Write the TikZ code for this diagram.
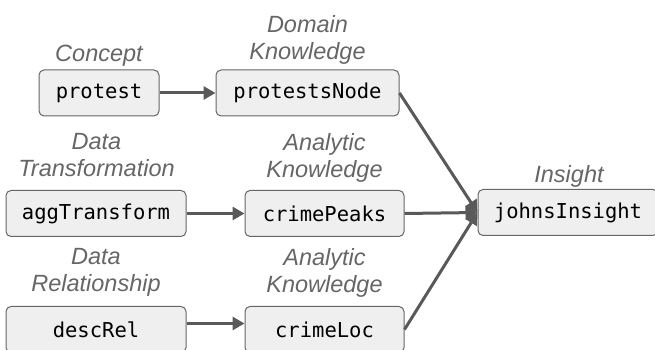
\documentclass[tikz,border=0pt]{standalone}
\usepackage{fontspec}
\setmainfont{Liberation Sans}
\newfontfamily\codefont{DejaVu Sans Mono}
\usepackage{xcolor}
\usepackage{tikz}
\usetikzlibrary{shapes,arrows,arrows.meta,positioning}

\definecolor{boxfill}{HTML}{EFEFEF}
\definecolor{boxline}{HTML}{666666}
\definecolor{flowgray}{HTML}{595959}
\definecolor{labelgray}{HTML}{666666}

\tikzset{
    kbox/.style={
        draw=boxline,
        fill=boxfill,
        line width=1pt,
        rounded corners=5pt,
        minimum height=46pt,
        inner sep=0pt,
        font=\codefont\fontsize{20.5}{24}\selectfont
    },
    klabel/.style={
        anchor=south,
        inner sep=0pt,
        text depth=0pt,
        align=center,
        text=labelgray,
        font=\itshape\fontsize{23.5}{27}\selectfont
    },
    flow/.style={
        draw=flowgray,
        line width=3pt,
        -{Triangle[length=12pt,width=13pt]}
    }
}

\begin{document}
\begin{tikzpicture}[x=10pt,y=10pt]
                \useasboundingbox (0,0) rectangle (65.5,35);

                % boxes
                \node[kbox, minimum width=120pt] (protest) at (9.9,25.7) {protest};
                \node[kbox, minimum width=183pt] (protestsNode) at (30.75,25.7) {protestsNode};
                \node[kbox, minimum width=180pt] (aggTransform) at (9.6,13.65) {aggTransform};
                \node[kbox, minimum width=159pt] (crimePeaks) at (32.45,13.65) {crimePeaks};
                \node[kbox, minimum width=180pt] (descRel) at (9.6,2.05) {descRel};
                \node[kbox, minimum width=159pt] (crimeLoc) at (32.45,2.05) {crimeLoc};
                \node[kbox, minimum width=180pt] (johnsInsight) at (56.8,13.75) {johnsInsight};

                % labels
                \node[klabel] (conceptLbl) at (9.9,28.85) {Concept};
                \node[klabel] (domainLbl) at (30.75,29.0) {Domain\\Knowledge};
                \node[klabel] (transformLbl) at (9.65,17.3) {Data\\Transformation};
                \node[klabel] (analyticLblA) at (32.45,17.25) {Analytic\\Knowledge};
                \node[klabel] (relationLbl) at (9.6,5.8) {Data\\Relationship};
                \node[klabel] (analyticLblB) at (32.45,5.7) {Analytic\\Knowledge};
                \node[klabel] (insightLbl) at (56.9,16.75) {Insight};

                % arrows
                \draw[flow] (protest.east) -- (protestsNode.west);
                \draw[flow] (aggTransform.east) -- (crimePeaks.west);
                \draw[flow] ([yshift=6pt]descRel.east) -- ([yshift=6pt]crimeLoc.west);
                \draw[flow] (protestsNode.east) -- (johnsInsight.west);
                \draw[flow] (crimePeaks.east) -- (johnsInsight.west);
                \draw[flow] (crimeLoc.east) -- (johnsInsight.west);

            \end{tikzpicture}
\end{document}
